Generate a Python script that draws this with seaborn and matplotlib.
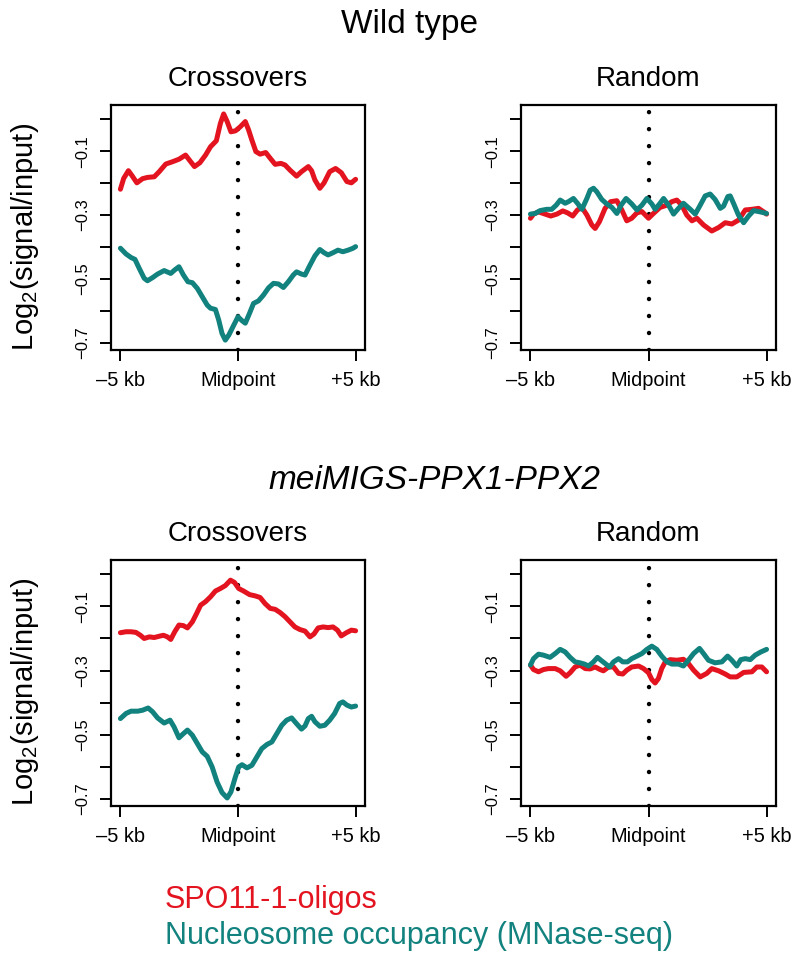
import numpy as np
import pandas as pd
import matplotlib
matplotlib.use("Agg")
import matplotlib.pyplot as plt
import seaborn as sns

# ---------------- data (kb from midpoint, log2(signal/input)) ----------------
wt_co_spo_x = [-5.0, -4.86, -4.66, -4.52, -4.30, -4.06, -3.85, -3.56, -3.35, -3.07, -2.79, -2.51, -2.23,
               -2.01, -1.85, -1.62, -1.38, -1.17, -0.92, -0.75, -0.61, -0.46, -0.30, -0.11, 0.10, 0.31,
               0.45, 0.59, 0.76, 0.94, 1.18, 1.37, 1.58, 1.82, 2.00, 2.21, 2.49, 2.70, 2.99, 3.13, 3.27,
               3.48, 3.66, 3.90, 4.15, 4.39, 4.63, 4.82, 5.0]
wt_co_spo_y = [-0.219, -0.185, -0.161, -0.175, -0.199, -0.186, -0.182, -0.180, -0.164, -0.140, -0.133,
               -0.125, -0.112, -0.133, -0.148, -0.136, -0.112, -0.086, -0.067, -0.013, 0.017, -0.007,
               -0.039, -0.036, -0.023, -0.007, -0.033, -0.065, -0.101, -0.109, -0.104, -0.122, -0.141,
               -0.138, -0.143, -0.159, -0.178, -0.164, -0.148, -0.161, -0.190, -0.216, -0.199, -0.164,
               -0.154, -0.167, -0.195, -0.199, -0.188]
wt_co_nuc_x = [-5.0, -4.76, -4.55, -4.38, -4.20, -3.99, -3.85, -3.63, -3.42, -3.14, -2.86, -2.69, -2.51,
               -2.32, -2.13, -1.94, -1.73, -1.52, -1.31, -1.17, -0.96, -0.82, -0.68, -0.54, -0.39, -0.18,
               0.00, 0.17, 0.31, 0.49, 0.66, 0.87, 1.08, 1.30, 1.51, 1.72, 1.93, 2.14, 2.35, 2.49, 2.70,
               2.85, 3.06, 3.27, 3.48, 3.66, 3.83, 4.04, 4.25, 4.46, 4.68, 4.89, 5.0]
wt_co_nuc_y = [-0.404, -0.422, -0.433, -0.439, -0.467, -0.498, -0.506, -0.496, -0.485, -0.474, -0.483,
               -0.472, -0.462, -0.488, -0.509, -0.512, -0.530, -0.556, -0.582, -0.592, -0.596, -0.629,
               -0.671, -0.692, -0.676, -0.645, -0.619, -0.631, -0.639, -0.608, -0.577, -0.569, -0.551,
               -0.528, -0.514, -0.516, -0.527, -0.509, -0.488, -0.478, -0.485, -0.488, -0.457, -0.428,
               -0.408, -0.418, -0.425, -0.418, -0.410, -0.415, -0.410, -0.404, -0.399]

wt_rd_spo_x = [-5.0, -4.87, -4.66, -4.38, -4.14, -3.88, -3.63, -3.43, -3.21, -3.01, -2.82, -2.61, -2.40,
               -2.26, -2.08, -1.84, -1.60, -1.34, -1.13, -0.92, -0.71, -0.49, -0.28, 0.00, 0.21, 0.49,
               0.78, 0.99, 1.20, 1.41, 1.62, 1.84, 2.05, 2.33, 2.68, 2.97, 3.25, 3.53, 3.81, 4.10, 4.38,
               4.66, 4.94, 5.0]
wt_rd_spo_y = [-0.310, -0.297, -0.290, -0.297, -0.303, -0.297, -0.287, -0.293, -0.303, -0.284, -0.276,
               -0.300, -0.331, -0.342, -0.321, -0.279, -0.258, -0.255, -0.284, -0.318, -0.310, -0.293,
               -0.289, -0.310, -0.295, -0.276, -0.269, -0.258, -0.253, -0.269, -0.300, -0.318, -0.310,
               -0.331, -0.350, -0.339, -0.324, -0.328, -0.316, -0.284, -0.282, -0.279, -0.293, -0.297]
wt_rd_nuc_x = [-5.0, -4.80, -4.59, -4.31, -4.10, -3.91, -3.74, -3.53, -3.39, -3.18, -3.01, -2.82, -2.61,
               -2.47, -2.33, -2.19, -1.98, -1.77, -1.55, -1.34, -1.16, -0.95, -0.71, -0.49, -0.28, -0.07,
               0.14, 0.28, 0.49, 0.64, 0.85, 1.06, 1.27, 1.48, 1.77, 1.98, 2.19, 2.40, 2.61, 2.82, 3.04,
               3.18, 3.36, 3.46, 3.60, 3.81, 4.03, 4.24, 4.45, 4.73, 5.0]
wt_rd_nuc_y = [-0.297, -0.295, -0.286, -0.282, -0.282, -0.269, -0.253, -0.263, -0.258, -0.248, -0.263,
               -0.282, -0.248, -0.222, -0.216, -0.227, -0.251, -0.265, -0.276, -0.295, -0.269, -0.248,
               -0.265, -0.284, -0.269, -0.248, -0.265, -0.282, -0.263, -0.248, -0.269, -0.297, -0.279,
               -0.263, -0.282, -0.297, -0.269, -0.240, -0.234, -0.251, -0.279, -0.272, -0.242, -0.240,
               -0.263, -0.300, -0.324, -0.303, -0.286, -0.290, -0.295]

mu_co_spo_x = [-5.0, -4.76, -4.55, -4.34, -4.15, -3.99, -3.77, -3.56, -3.35, -3.17, -3.00, -2.86, -2.69,
               -2.51, -2.32, -2.15, -1.94, -1.76, -1.59, -1.38, -1.17, -0.96, -0.75, -0.54, -0.32, -0.15,
               0.03, 0.24, 0.49, 0.73, 0.94, 1.15, 1.37, 1.58, 1.79, 2.00, 2.21, 2.42, 2.63, 2.85, 3.06,
               3.23, 3.41, 3.62, 3.83, 4.04, 4.23, 4.39, 4.61, 4.82, 5.0]
mu_co_spo_y = [-0.182, -0.179, -0.179, -0.181, -0.190, -0.200, -0.195, -0.197, -0.193, -0.190, -0.195,
               -0.203, -0.179, -0.158, -0.160, -0.167, -0.148, -0.122, -0.096, -0.085, -0.070, -0.052,
               -0.044, -0.035, -0.018, -0.025, -0.044, -0.052, -0.063, -0.067, -0.072, -0.091, -0.106,
               -0.109, -0.119, -0.132, -0.148, -0.164, -0.172, -0.177, -0.195, -0.186, -0.167, -0.164,
               -0.166, -0.164, -0.174, -0.192, -0.182, -0.174, -0.176]
mu_co_nuc_x = [-5.0, -4.76, -4.55, -4.27, -4.06, -3.82, -3.63, -3.42, -3.14, -2.89, -2.72, -2.51, -2.32,
               -2.15, -1.94, -1.73, -1.52, -1.31, -1.10, -0.89, -0.68, -0.46, -0.30, -0.11, 0.03, 0.17,
               0.38, 0.59, 0.80, 1.01, 1.23, 1.44, 1.65, 1.86, 2.07, 2.28, 2.49, 2.70, 2.85, 2.99, 3.13,
               3.27, 3.48, 3.69, 3.90, 4.11, 4.32, 4.46, 4.63, 4.82, 5.0]
mu_co_nuc_y = [-0.450, -0.434, -0.427, -0.427, -0.424, -0.417, -0.429, -0.448, -0.464, -0.455, -0.476,
               -0.510, -0.497, -0.486, -0.502, -0.528, -0.554, -0.568, -0.601, -0.648, -0.681, -0.698,
               -0.679, -0.632, -0.601, -0.594, -0.604, -0.596, -0.570, -0.544, -0.531, -0.523, -0.497,
               -0.471, -0.455, -0.448, -0.466, -0.483, -0.473, -0.450, -0.443, -0.460, -0.474, -0.471,
               -0.455, -0.434, -0.403, -0.398, -0.408, -0.414, -0.411]

mu_rd_spo_x = [-5.0, -4.87, -4.66, -4.45, -4.24, -3.95, -3.74, -3.49, -3.32, -3.11, -2.90, -2.68, -2.47,
               -2.26, -2.05, -1.91, -1.69, -1.48, -1.27, -1.09, -0.92, -0.71, -0.42, -0.21, 0.00, 0.14,
               0.28, 0.42, 0.56, 0.71, 0.92, 1.20, 1.48, 1.69, 1.91, 2.19, 2.47, 2.68, 2.97, 3.25, 3.46,
               3.74, 4.03, 4.38, 4.59, 4.80, 5.0]
mu_rd_spo_y = [-0.283, -0.297, -0.304, -0.297, -0.294, -0.294, -0.301, -0.318, -0.307, -0.289, -0.283,
               -0.294, -0.295, -0.289, -0.297, -0.301, -0.289, -0.289, -0.309, -0.311, -0.299, -0.289,
               -0.286, -0.294, -0.307, -0.328, -0.339, -0.325, -0.294, -0.273, -0.266, -0.268, -0.265,
               -0.278, -0.299, -0.320, -0.309, -0.294, -0.301, -0.311, -0.320, -0.320, -0.306, -0.304,
               -0.289, -0.289, -0.304]
mu_rd_nuc_x = [-5.0, -4.87, -4.66, -4.45, -4.17, -3.95, -3.74, -3.53, -3.32, -3.11, -2.90, -2.71, -2.54,
               -2.33, -2.16, -1.98, -1.84, -1.65, -1.48, -1.27, -1.09, -0.89, -0.71, -0.49, -0.28, -0.07,
               0.14, 0.35, 0.56, 0.78, 0.99, 1.27, 1.48, 1.69, 1.91, 2.16, 2.33, 2.54, 2.82, 3.11, 3.35,
               3.53, 3.74, 3.91, 4.10, 4.31, 4.52, 4.76, 5.0]
mu_rd_nuc_y = [-0.283, -0.263, -0.249, -0.252, -0.259, -0.247, -0.234, -0.242, -0.259, -0.273, -0.276,
               -0.280, -0.286, -0.273, -0.259, -0.270, -0.278, -0.289, -0.273, -0.263, -0.273, -0.273,
               -0.263, -0.255, -0.247, -0.234, -0.224, -0.234, -0.255, -0.273, -0.280, -0.280, -0.286,
               -0.268, -0.247, -0.231, -0.247, -0.268, -0.276, -0.273, -0.255, -0.268, -0.286, -0.266,
               -0.263, -0.266, -0.252, -0.242, -0.234]

group_titles = ["Wild type", "meiMIGS-PPX1-PPX2"]
panel_titles = ["Crossovers", "Random"]
x_ticks = [-5, 0, 5]
x_tick_labels = ["\u20135 kb", "Midpoint", "+5 kb"]
y_ticks = [0.0, -0.1, -0.2, -0.3, -0.4, -0.5, -0.6, -0.7]
y_tick_labels = ["", "\u22120.1", "", "\u22120.3", "", "\u22120.5", "", "\u22120.7"]
legend_labels = ["SPO11-1-oligos", "Nucleosome occupancy (MNase-seq)"]

RED = "#E3141F"
TEAL = "#12827F"

# ---------------- style ----------------
sns.set_style("ticks")
plt.rcParams["font.family"] = ["Liberation Sans", "DejaVu Sans"]
plt.rcParams["mathtext.default"] = "regular"
plt.rcParams["mathtext.fontset"] = "custom"
plt.rcParams["mathtext.rm"] = "Liberation Sans"
plt.rcParams["text.color"] = "black"
plt.rcParams["axes.labelcolor"] = "black"
plt.rcParams["xtick.color"] = "black"
plt.rcParams["ytick.color"] = "black"
plt.rcParams["xtick.labelcolor"] = "black"
plt.rcParams["ytick.labelcolor"] = "black"

fig = plt.figure(figsize=(8, 9.56), dpi=100)

W, H = 800.0, 956.0
def rect(x0, y0, x1, y1):
    return [x0 / W, 1 - y1 / H, (x1 - x0) / W, (y1 - y0) / H]

boxes = {
    (0, 0): rect(111, 105, 365, 350),
    (0, 1): rect(521, 105, 776, 350),
    (1, 0): rect(111, 560, 365, 806),
    (1, 1): rect(521, 560, 776, 806),
}

series = {
    (0, 0): (wt_co_spo_x, wt_co_spo_y, wt_co_nuc_x, wt_co_nuc_y),
    (0, 1): (wt_rd_spo_x, wt_rd_spo_y, wt_rd_nuc_x, wt_rd_nuc_y),
    (1, 0): (mu_co_spo_x, mu_co_spo_y, mu_co_nuc_x, mu_co_nuc_y),
    (1, 1): (mu_rd_spo_x, mu_rd_spo_y, mu_rd_nuc_x, mu_rd_nuc_y),
}

for (r, c), box in boxes.items():
    ax = fig.add_axes(box)
    sx, sy, nx, ny = series[(r, c)]
    ax.axvline(0, color="black", lw=3.2, linestyle=(0, (0.01, 12.2 / 3.2)),
               dash_capstyle="round", zorder=1)
    sns.lineplot(x=sx, y=sy, ax=ax, color=RED, lw=3.6, sort=False, estimator=None,
                 solid_joinstyle="round", solid_capstyle="round", zorder=3)
    sns.lineplot(x=nx, y=ny, ax=ax, color=TEAL, lw=3.6, sort=False, estimator=None,
                 solid_joinstyle="round", solid_capstyle="round", zorder=3)
    ax.set_xlim(-5.4, 5.4)
    ax.set_ylim(-0.723, 0.045)
    ax.set_xticks(x_ticks)
    ax.set_xticklabels(x_tick_labels, fontsize=14.4, color="black")
    ax.set_yticks(y_ticks)
    ax.set_yticklabels(y_tick_labels, fontsize=12, rotation=90, va="center", color="black")
    ax.tick_params(axis="both", direction="out", length=8, width=1.4, color="black")
    ax.tick_params(axis="x", pad=7)
    ax.tick_params(axis="y", pad=7)
    for sp in ax.spines.values():
        sp.set_visible(True)
        sp.set_linewidth(1.6)
        sp.set_color("black")
    ax.set_xlabel("")
    ax.set_ylabel("")
    ax.set_title(panel_titles[c], fontsize=20, pad=14, color="black")

# y labels
for yc in [237, 692]:
    fig.text(25 / W, 1 - yc / H, r"Log$_2$(signal/input)", rotation=90,
             ha="center", va="center", fontsize=21, color="black")

# group titles
fig.text(410 / W, 1 - 24 / H, group_titles[0], ha="center", va="center", fontsize=24, color="black")
fig.text(434 / W, 1 - 481 / H, group_titles[1], ha="center", va="center", fontsize=24,
         style="italic", color="black")

# legend text
fig.text(165 / W, 1 - 900 / H, legend_labels[0], ha="left", va="center", fontsize=22, color=RED)
fig.text(165 / W, 1 - 936 / H, legend_labels[1], ha="left", va="center", fontsize=22, color=TEAL)

fig.savefig("out.png", dpi=100)
